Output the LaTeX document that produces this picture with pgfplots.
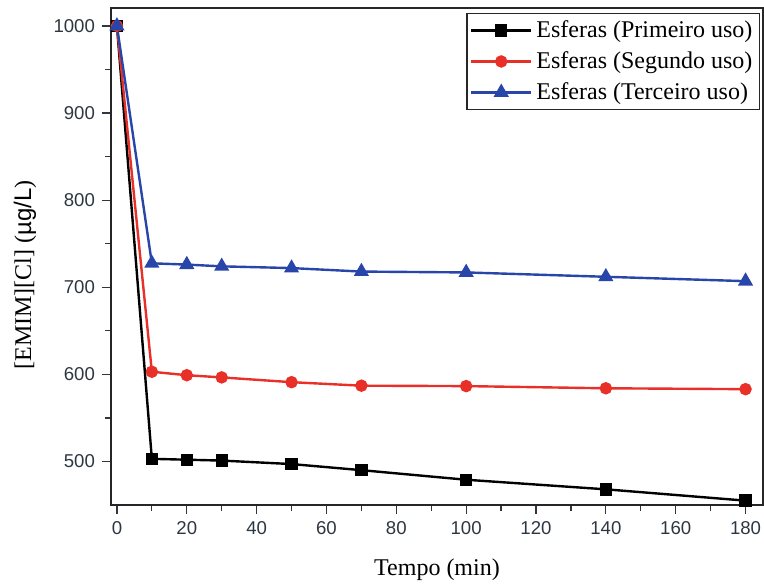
\documentclass[border=0pt]{standalone}
\usepackage{fontspec}
\setmainfont{Liberation Serif}
\newfontfamily\arial{Liberation Sans}
\usepackage{pgfplots}
\pgfplotsset{compat=1.18}
\definecolor{cred}{RGB}{232,48,40}
\definecolor{cblue}{RGB}{40,70,170}
\definecolor{tickc}{RGB}{45,55,65}
\begin{document}
\begin{tikzpicture}
\begin{axis}[
  name=ax,
  scale only axis,
  width=326pt, height=248.5pt,
  xmin=-1.7, xmax=185, ymin=450, ymax=1020.6,
  xtick={0,20,...,180}, ytick={500,600,...,1000},
  minor x tick num=1, minor y tick num=1,
  tick pos=left, tick align=outside,
  major tick length=4.5pt, minor tick length=3pt,
  tick style={color=tickc, line width=0.6pt},
  axis line style={line width=0.7pt, color=black!85},
  /pgf/number format/assume math mode=true,
  /pgf/number format/1000 sep={},
  tick label style={font=\arial\fontsize{9.3}{10}\selectfont, color=tickc},
  xlabel={Tempo (min)},
  ylabel={[EMIM][Cl] ({\arial µg/L})},
  label style={font=\fontsize{12}{14}\selectfont},
  xlabel style={at={(rel axis cs:0.5,0)}, anchor=center, yshift=-32.5pt},
  ylabel style={at={(rel axis cs:-0.1319,0.463)}, anchor=center},
  legend style={at={(rel axis cs:0.9954,0.9899)}, anchor=north east,
    font=\fontsize{12}{13}\selectfont, draw=black!85, line width=0.6pt,
    inner sep=1.5pt, row sep=1.5pt, cells={anchor=west}},
  legend image code/.code={\draw[mark repeat=2,mark phase=2] plot coordinates {(0pt,0pt)(15pt,0pt)(30pt,0pt)};},
  every axis plot/.append style={line width=1.2pt},
]
\addplot[color=black, mark=square*, mark size=2.5pt, mark options={solid}] coordinates {
(0,1000) (10,503) (20,502) (30,501) (50,497) (70,490) (100,479) (140,468) (180,455)};
\addlegendentry{Esferas (Primeiro uso)}
\addplot[color=cred, mark=*, mark size=2.5pt] coordinates {
(0,1000) (10,603) (20,599) (30,596.5) (50,591) (70,587) (100,586.5) (140,584) (180,583)};
\addlegendentry{Esferas (Segundo uso)}
\addplot[color=cblue, mark=triangle*, mark size=3.2pt] coordinates {
(0,1000) (10,727.5) (20,726) (30,724) (50,722) (70,718) (100,717) (140,712) (180,707)};
\addlegendentry{Esferas (Terceiro uso)}
\end{axis}
\pgfresetboundingbox
\path[use as bounding box] ([xshift=-55.5pt,yshift=-39pt]ax.south west) rectangle ([xshift=0.5pt,yshift=4pt]ax.north east);
\end{tikzpicture}
\end{document}
